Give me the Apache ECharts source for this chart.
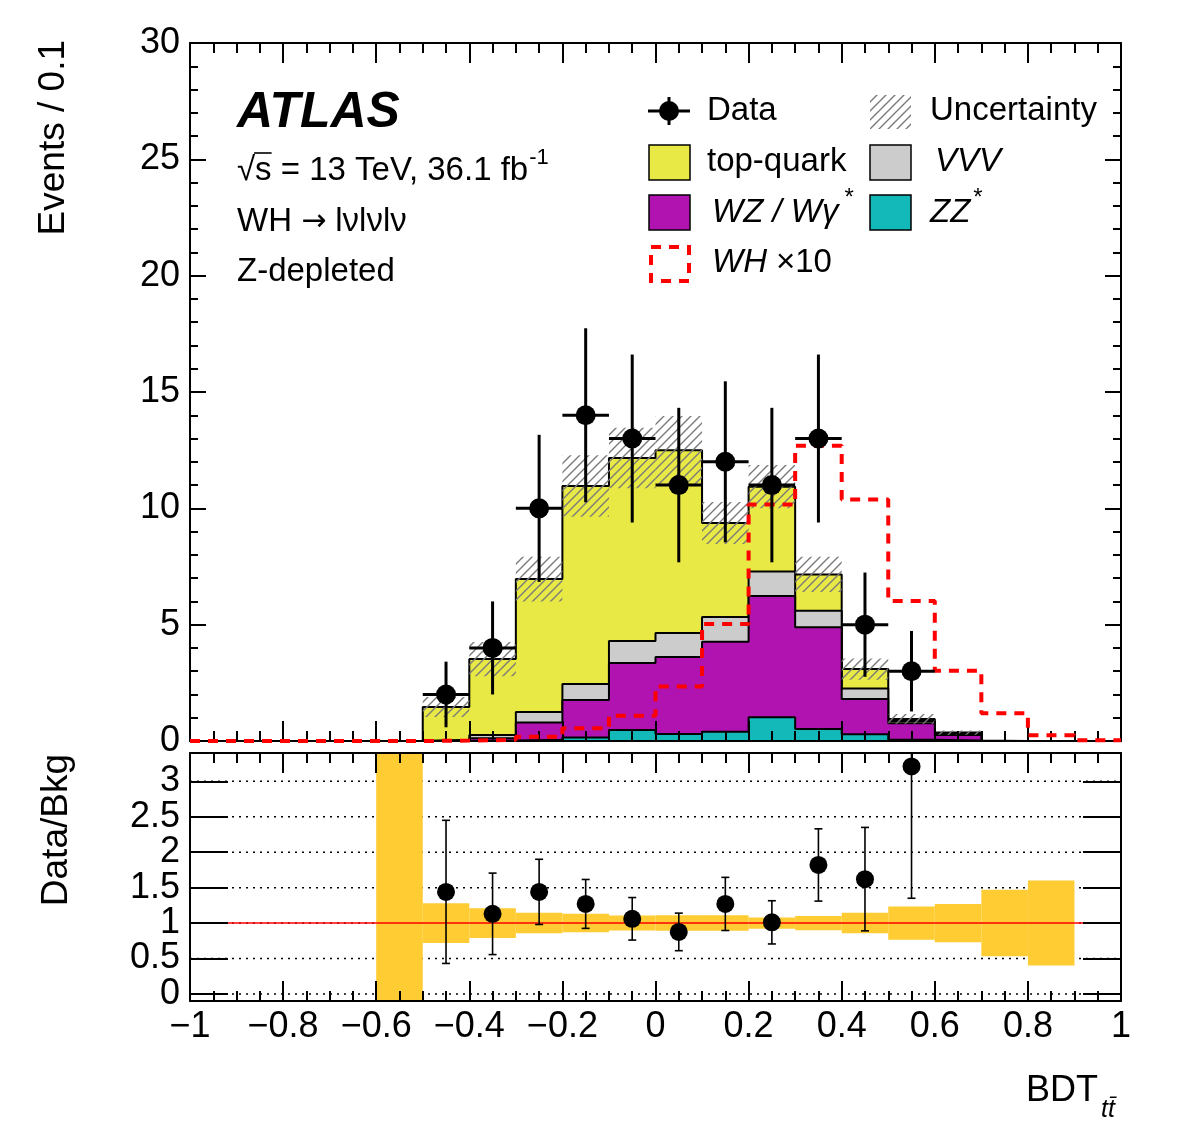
<!DOCTYPE html>
<html>
<head>
<meta charset="utf-8">
<script src="https://cdn.jsdelivr.net/npm/echarts@6/dist/echarts.min.js"></script>
<style>
html,body{margin:0;padding:0;background:#fff}
#chart{width:1182px;height:1140px}
</style>
</head>
<body>
<div id="chart"></div>
<script>
// bins of BDT output, width 0.1
const binLow = [-1.0,-0.9,-0.8,-0.7,-0.6,-0.5,-0.4,-0.3,-0.2,-0.1,0.0,0.1,0.2,0.3,0.4,0.5,0.6,0.7,0.8,0.9]
const binWidth = 0.1

// backgrounds, stacked bottom -> top
const zz       = [0,0,0,0,0, 0.00,0.02,0.05,0.15,0.47,0.30,0.40,1.02,0.52,0.29,0.05,0.02, 0,0,0]
const wz       = [0,0,0,0,0, 0.02,0.10,0.74,1.61,2.88,3.31,3.87,5.21,4.37,1.51,0.71,0.24, 0,0,0]
const vvv      = [0,0,0,0,0, 0.03,0.14,0.46,0.69,0.95,1.03,1.06,1.05,0.71,0.46,0.10,0.04, 0,0,0]
const topQuark = [0,0,0,0,0, 1.41,3.26,5.71,8.51,7.86,7.86,4.04,3.65,1.56,0.83,0.09,0.06, 0,0,0]
const bkgUnc   = [0,0,0,0,0, 0.43,0.74,0.96,1.32,1.30,1.47,0.90,0.93,0.76,0.46,0.21,0.09, 0,0,0]
// signal x10
const wh10 = [0,0,0,0,0, 0.02,0.05,0.18,0.55,1.09,2.34,5.03,10.17,12.69,10.38,6.02,3.02,1.19,0.25,0.03]

// data
const dataX   = [-0.45,-0.35,-0.25,-0.15,-0.05,0.05,0.15,0.25,0.35,0.45,0.55]
const dataY   = [2,4,10,14,13,11,12,11,13,5,3]
const dataErr = [1.41,2.00,3.16,3.74,3.61,3.32,3.46,3.32,3.61,2.24,1.73]

// ratio panel
const ratioY   = [1.44,1.13,1.44,1.27,1.06,0.875,1.27,1.01,1.82,1.62,3.21]
const ratioErr = [1.01,0.575,0.46,0.345,0.30,0.265,0.375,0.305,0.51,0.73,1.86]
const ratioBand = [null,null,null,null,99,0.28,0.21,0.145,0.13,0.105,0.11,0.11,0.08,0.10,0.145,0.235,0.27,0.47,0.60,null]
const ratioTicks = [0,0.5,1,1.5,2,2.5,3]
const ratioLabelsInt = [0,1,2,3]
const ratioLabelsHalf = [0.5,1.5,2.5]
const R_MIN = -0.1, R_MAX = 3.4

const FF = '"Liberation Sans", Arial, Helvetica, sans-serif'
const C_TOP = '#e9e945', C_VVV = '#cccccc', C_WZ = '#b113b1', C_ZZ = '#13b8b8', C_BAND = '#ffcc33'

// cumulative stack
const cum1 = zz.map((v,i)=>v)
const cum2 = cum1.map((v,i)=>v+wz[i])
const cum3 = cum2.map((v,i)=>v+vvv[i])
const total = cum3.map((v,i)=>v+topQuark[i])

function stepData(vals){
  const d = binLow.map((x,i)=>[x, vals[i]])
  d.push([1.0, vals[vals.length-1]])
  return d
}

// hatch pattern for uncertainty
const hc = document.createElement('canvas')
hc.width = 9; hc.height = 9
const hctx = hc.getContext('2d')
hctx.strokeStyle = '#7a7a7a'; hctx.lineWidth = 1.4
hctx.beginPath()
hctx.moveTo(0,9); hctx.lineTo(9,0)
hctx.moveTo(-2,2); hctx.lineTo(2,-2)
hctx.moveTo(7,11); hctx.lineTo(11,7)
hctx.stroke()
const hatch = {image: hc, repeat: 'repeat'}

const mctx = document.createElement('canvas').getContext('2d')
function tw(str, size, style, fam){
  mctx.font = (style||'') + ' ' + size + 'px ' + (fam || FF)
  return mctx.measureText(str).width
}
function txt(str, x, y, size, opts){
  opts = opts || {}
  return {type:'text', x:x, y:y, z:100, rotation: opts.rotation || 0,
    style:{text:str, fill:'#000', fontSize:size, fontFamily: opts.family || FF,
      fontStyle: opts.italic ? 'italic' : 'normal', fontWeight: opts.bold ? 'bold' : 'normal',
      align: opts.align || 'left', verticalAlign: opts.valign || 'middle'}}
}

function xAx(grid, pos, labels){
  return {
    type:'value', gridIndex:grid, position:pos, min:-1, max:1, interval:0.2, z:10,
    axisLine:{show:true, onZero:false, lineStyle:{color:'#000', width:2}},
    axisTick:{show:true, inside:true, length:20, lineStyle:{color:'#000', width:2}},
    minorTick:{show:true, splitNumber:4, length:10, lineStyle:{color:'#000', width:2}},
    splitLine:{show:false}, minorSplitLine:{show:false},
    axisLabel: labels ? {show:true, fontSize:36, fontFamily:FF, color:'#000', margin:8,
      formatter: v => { const n = parseFloat(v.toFixed(1)); return n < 0 ? '\u2212' + Math.abs(n) : String(n) }}
      : {show:false}
  }
}
function yTop(pos, labels){
  return {
    type:'value', gridIndex:0, position:pos, min:0, max:30, interval:5, z:10,
    axisLine:{show:true, onZero:false, lineStyle:{color:'#000', width:2}},
    axisTick:{show:true, inside:true, length:16, lineStyle:{color:'#000', width:2}},
    minorTick:{show:true, splitNumber:5, length:8, lineStyle:{color:'#000', width:2}},
    splitLine:{show:false},
    axisLabel: labels ? {show:true, fontSize:36, fontFamily:FF, color:'#000', margin:10} : {show:false}
  }
}
function yRatio(pos, labelValues, withTicks){
  return {
    type:'value', gridIndex:1, position:pos, min:R_MIN, max:R_MAX, z:10,
    axisLine:{show:withTicks, onZero:false, lineStyle:{color:'#000', width:2}},
    axisTick:{show:withTicks, inside:true, length:38, customValues:ratioTicks, lineStyle:{color:'#000', width:2}},
    minorTick:{show:false},
    splitLine:{show:false},
    axisLabel: labelValues ? {show:true, fontSize:36, fontFamily:FF, color:'#000', margin:10, customValues:labelValues,
      showMinLabel:true, showMaxLabel:true, hideOverlap:false,
      formatter: v => String(v)} : {show:false}
  }
}

function stackSeries(vals, color, z){
  return {type:'line', xAxisIndex:0, yAxisIndex:0, step:'end', data:stepData(vals),
    symbol:'none', showSymbol:false, silent:true, z:z,
    lineStyle:{color:'#000', width:2}, areaStyle:{color:color, opacity:1}}
}

const hatchData = binLow.map((x,i)=> bkgUnc[i] > 0 ? [x, x+binWidth, total[i]-bkgUnc[i], total[i]+bkgUnc[i]] : null).filter(d=>d)
const bandData = binLow.map((x,i)=> ratioBand[i] != null ? [x, x+binWidth, ratioBand[i]] : null).filter(d=>d)
const dataPts = dataX.map((x,i)=>[x, dataY[i], dataErr[i]])
const ratioPts = dataX.map((x,i)=>[x, ratioY[i], ratioErr[i]])
const clampR = v => Math.max(R_MIN, Math.min(R_MAX, v))

const series = [
  stackSeries(total, C_TOP, 2),
  stackSeries(cum3, C_VVV, 3),
  stackSeries(cum2, C_WZ, 4),
  stackSeries(cum1, C_ZZ, 5),
  {type:'custom', xAxisIndex:0, yAxisIndex:0, z:6, silent:true, data:hatchData,
    encode:{x:[0,1], y:[2,3]},
    renderItem:(params, api)=>{
      const a = api.coord([api.value(0), api.value(3)])
      const b = api.coord([api.value(1), api.value(2)])
      return {type:'rect', shape:{x:a[0], y:a[1], width:b[0]-a[0], height:b[1]-a[1]}, style:{fill:hatch}}
    }},
  {type:'line', xAxisIndex:0, yAxisIndex:0, step:'end', data:stepData(wh10), symbol:'none', showSymbol:false,
    silent:true, z:11, lineStyle:{color:'#ff0000', width:4, type:[10,8]}},
  {type:'custom', xAxisIndex:0, yAxisIndex:0, z:12, silent:true, data:dataPts,
    encode:{x:0, y:1},
    renderItem:(params, api)=>{
      const x = api.value(0), y = api.value(1), e = api.value(2)
      const c = api.coord([x,y]), t = api.coord([x,y+e]), b = api.coord([x,y-e])
      const l = api.coord([x-binWidth/2,y]), r = api.coord([x+binWidth/2,y])
      return {type:'group', children:[
        {type:'line', shape:{x1:c[0], y1:t[1], x2:c[0], y2:b[1]}, style:{stroke:'#000', lineWidth:3}},
        {type:'line', shape:{x1:l[0], y1:c[1], x2:r[0], y2:c[1]}, style:{stroke:'#000', lineWidth:3}},
        {type:'circle', shape:{cx:c[0], cy:c[1], r:10}, style:{fill:'#000'}}
      ]}
    }},
  // ratio panel: dotted grid
  {type:'custom', xAxisIndex:2, yAxisIndex:2, z:2, silent:true, data:ratioTicks.map(v=>[v]),
    renderItem:(params, api)=>{
      const a = api.coord([-1, api.value(0)]), b = api.coord([1, api.value(0)])
      return {type:'line', shape:{x1:a[0], y1:a[1], x2:b[0], y2:b[1]}, style:{stroke:'#000', lineWidth:1.5, lineDash:[2,5]}}
    }},
  // ratio panel: background uncertainty band
  {type:'custom', xAxisIndex:2, yAxisIndex:2, z:3, silent:true, data:bandData,
    renderItem:(params, api)=>{
      const e = api.value(2)
      const a = api.coord([api.value(0), clampR(1+e)])
      const b = api.coord([api.value(1), clampR(1-e)])
      return {type:'rect', shape:{x:a[0], y:a[1], width:b[0]-a[0], height:b[1]-a[1]}, style:{fill:C_BAND}}
    }},
  // ratio = 1 line
  {type:'custom', xAxisIndex:2, yAxisIndex:2, z:4, silent:true, data:[[1]],
    renderItem:(params, api)=>{
      const a = api.coord([-1, api.value(0)]), b = api.coord([1, api.value(0)])
      return {type:'line', shape:{x1:a[0], y1:a[1], x2:b[0], y2:b[1]}, style:{stroke:'#ff0000', lineWidth:1.5}}
    }},
  {type:'custom', xAxisIndex:2, yAxisIndex:2, z:12, silent:true, data:ratioPts,
    encode:{x:0, y:1},
    renderItem:(params, api)=>{
      const x = api.value(0), y = api.value(1), e = api.value(2)
      const c = api.coord([x,y]), t = api.coord([x,clampR(y+e)]), b = api.coord([x,clampR(y-e)])
      const kids = [{type:'line', shape:{x1:c[0], y1:t[1], x2:c[0], y2:b[1]}, style:{stroke:'#000', lineWidth:1.6}}]
      if (y+e < R_MAX) kids.push({type:'line', shape:{x1:c[0]-4, y1:t[1], x2:c[0]+4, y2:t[1]}, style:{stroke:'#000', lineWidth:1.6}})
      if (y-e > R_MIN) kids.push({type:'line', shape:{x1:c[0]-4, y1:b[1], x2:c[0]+4, y2:b[1]}, style:{stroke:'#000', lineWidth:1.6}})
      kids.push({type:'circle', shape:{cx:c[0], cy:c[1], r:9}, style:{fill:'#000'}})
      return {type:'group', children:kids}
    }}
]

// texts and legend
const g = []
g.push(txt('ATLAS', 237, 113, 50, {italic:true, bold:true}))
const s1 = '\u221As = 13 TeV, 36.1 fb'
g.push(txt(s1, 237, 171, 33))
g.push(txt('-1', 237 + tw(s1, 33) + 1, 158, 22))
const wRad = tw('\u221A', 33), wRadS = tw('\u221As', 33)
g.push({type:'line', z:100, shape:{x1:237+wRad-1, y1:153, x2:237+wRadS, y2:153}, style:{stroke:'#000', lineWidth:1.6}})
const ARROW_FF = '"DejaVu Sans", sans-serif'
const wWH = tw('WH ', 33)
g.push(txt('WH', 237, 222, 33))
g.push(txt('\u2192', 237 + wWH, 222, 30, {family:ARROW_FF}))
g.push(txt('l\u03BDl\u03BDl\u03BD', 237 + wWH + tw('\u2192', 30, '', ARROW_FF) + 9, 222, 33))
g.push(txt('Z-depleted', 237, 272, 33))

// legend
g.push({type:'line', z:100, shape:{x1:648, y1:111, x2:690, y2:111}, style:{stroke:'#000', lineWidth:3}})
g.push({type:'line', z:100, shape:{x1:669, y1:97, x2:669, y2:125}, style:{stroke:'#000', lineWidth:3}})
g.push({type:'circle', z:100, shape:{cx:669, cy:111, r:10}, style:{fill:'#000'}})
g.push(txt('Data', 707, 111, 33))
g.push({type:'rect', z:100, shape:{x:870, y:95, width:41, height:34}, style:{fill:hatch}})
g.push(txt('Uncertainty', 930, 111, 33))
g.push({type:'rect', z:100, shape:{x:649, y:145, width:41, height:35}, style:{fill:C_TOP, stroke:'#000', lineWidth:1.5}})
g.push(txt('top-quark', 707, 162, 33))
g.push({type:'rect', z:100, shape:{x:870, y:145, width:41, height:35}, style:{fill:C_VVV, stroke:'#000', lineWidth:1.5}})
g.push(txt('VVV', 935, 162, 33, {italic:true}))
g.push({type:'rect', z:100, shape:{x:649, y:195, width:41, height:35}, style:{fill:C_WZ, stroke:'#000', lineWidth:1.5}})
const sWZ = 'WZ / W\u03B3'
g.push(txt(sWZ, 712, 213, 33, {italic:true}))
g.push(txt('*', 712 + tw(sWZ, 33, 'italic') + 6, 198, 24))
g.push({type:'rect', z:100, shape:{x:870, y:195, width:41, height:35}, style:{fill:C_ZZ, stroke:'#000', lineWidth:1.5}})
g.push(txt('ZZ', 930, 213, 33, {italic:true}))
g.push(txt('*', 930 + tw('ZZ', 33, 'italic') + 3, 198, 24))
g.push({type:'rect', z:100, shape:{x:651, y:247, width:38, height:34}, style:{fill:'none', stroke:'#ff0000', lineWidth:4, lineDash:[10,8]}})
g.push(txt('WH', 712, 263, 33, {italic:true}))
g.push(txt('\u00D710', 712 + tw('WH', 33, 'italic') + 9, 263, 33))

// axis titles
g.push(txt('Events / 0.1', 54, 40, 37, {rotation:Math.PI/2, align:'right'}))
g.push(txt('Data/Bkg', 57, 754, 37, {rotation:Math.PI/2, align:'right'}))
g.push(txt('BDT', 1098, 1091, 36, {align:'right'}))
g.push(txt('tt\u0304', 1101, 1110, 25, {italic:true}))

const option = {
  backgroundColor:'#fff',
  animation:false,
  grid:[
    {left:190, top:43, width:931, height:698},
    {left:190, top:753, width:931, height:248}
  ],
  xAxis:[xAx(0,'bottom',false), xAx(0,'top',false), xAx(1,'bottom',true), xAx(1,'top',false)],
  yAxis:[yTop('left',true), yTop('right',false),
    yRatio('left', ratioLabelsInt, true), yRatio('right', null, true), yRatio('left', ratioLabelsHalf, false)],
  series: series,
  graphic: g
}

const chart = echarts.init(document.getElementById('chart'))
chart.setOption(option)
</script>
</body>
</html>
